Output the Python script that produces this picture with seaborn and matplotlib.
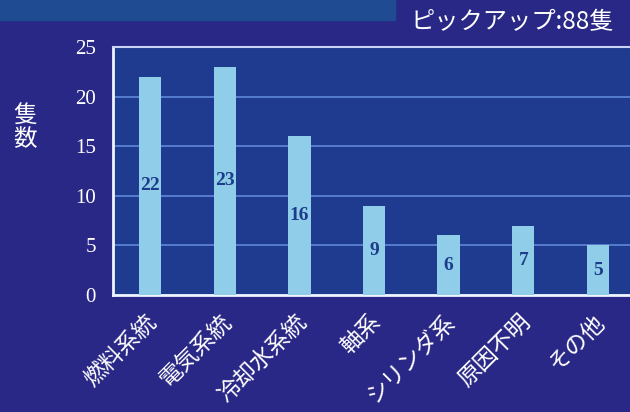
import matplotlib
matplotlib.use("Agg")
import matplotlib.pyplot as plt
import matplotlib.patches as mpatches
import matplotlib.transforms as mtransforms
import seaborn as sns

# data
categories = ["燃料系統", "電気系統", "冷却水系統", "軸系", "シリンダ系", "原因不明", "その他"]
counts = [22, 23, 16, 9, 6, 7, 5]
yticks = [0, 5, 10, 15, 20, 25]
title_note = "ピックアップ:88隻"
ylabel = "隻\n数"

# colours
fig_bg = "#2a2886"
ax_bg = "#1f3b8f"
band_color = "#1f4b93"
bar_color = "#8fcde8"
grid_color = "#5f88d8"
value_color = "#1d3c8c"

sns.set_theme(style="white")
plt.rcParams["font.family"] = ["Noto Sans CJK JP", "DejaVu Sans"]

fig = plt.figure(figsize=(6.3, 4.12), dpi=100, facecolor=fig_bg)
ax = fig.add_axes([0.179, 0.284, 0.821, 0.602])
ax.set_facecolor(ax_bg)

# decorative band at top-left of slide
fig.patches.append(mpatches.Rectangle((0, 1 - 20 / 412), 395 / 630, 20 / 412,
                                      transform=fig.transFigure, color=band_color, zorder=0))

sns.barplot(x=categories, y=counts, color=bar_color, width=0.3, saturation=1,
            edgecolor="none", ax=ax, zorder=3)

ax.bar_label(ax.containers[0], labels=[str(v) for v in counts], label_type="center",
             color=value_color, fontsize=14, fontweight="bold", family="Liberation Serif")

ax.set_ylim(0, 25)
ax.set_xlim(-0.5, 6.43)
ax.set_yticks(yticks)
ax.set_yticklabels([str(t) for t in yticks], family="Liberation Serif", fontsize=15,
                   color="white")
ax.tick_params(axis="y", length=0, pad=12)
ax.tick_params(axis="x", length=0, pad=11)

ax.set_axisbelow(True)
ax.yaxis.grid(True, color=grid_color, linewidth=1.2)
ax.xaxis.grid(False)

# rotated category labels, nudged a little left of the bars
shift = mtransforms.ScaledTranslation(-5 / 100, 0, fig.dpi_scale_trans)
for lab in ax.get_xticklabels():
    lab.set_rotation(45)
    lab.set_rotation_mode("anchor")
    lab.set_ha("right")
    lab.set_va("top")
    lab.set_color("white")
    lab.set_fontsize(16.5)
    lab.set_transform(lab.get_transform() + shift)

for side in ["left", "bottom"]:
    ax.spines[side].set_color("#f0f4ff")
    ax.spines[side].set_linewidth(2)
ax.spines["top"].set_color("#c9d3f5")
ax.spines["top"].set_linewidth(1.5)
ax.spines["right"].set_visible(False)

ax.set_xlabel("")
ax.set_ylabel("")
fig.text(25 / 630, 1 - 128 / 412, ylabel, color="white", fontsize=17,
         ha="center", va="center", linespacing=1.0)
fig.text(614 / 630, 1 - 22 / 412, title_note, color="white", fontsize=17.5,
         ha="right", va="center")

fig.savefig("out.png", dpi=100, facecolor=fig_bg)
